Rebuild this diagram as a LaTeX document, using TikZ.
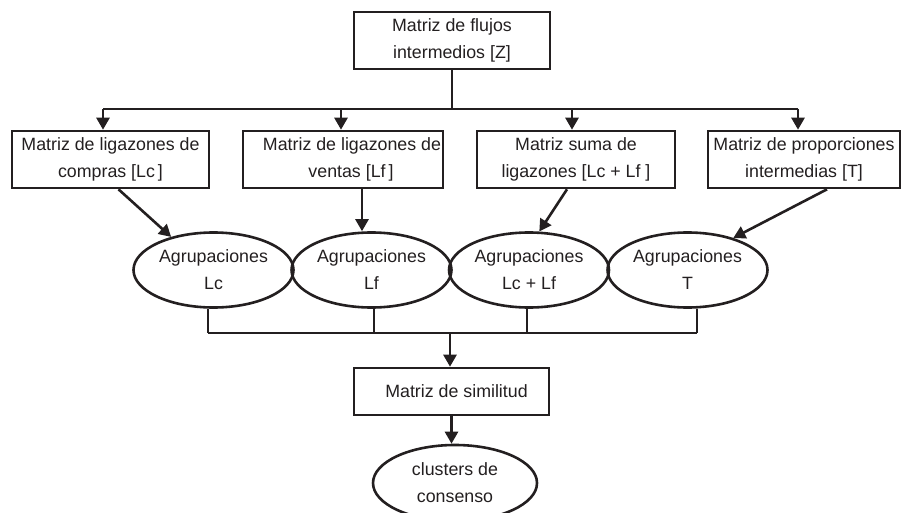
\documentclass[tikz,border=0pt]{standalone}
\usepackage{fontspec}
\setmainfont{Liberation Sans}
\usetikzlibrary{shapes.geometric,arrows.meta}
\definecolor{ink}{HTML}{231F20}
\begin{document}
\begin{tikzpicture}[x=1pt,y=-1pt,
  every node/.style={font=\fontsize{17.8}{27}\selectfont, text=ink, align=center, inner sep=0pt},
  rbox/.style={draw=ink, line width=2.6pt, rectangle},
  ell/.style={draw=ink, line width=2.6pt, ellipse, minimum width=160pt, minimum height=75pt},
  conn/.style={draw=ink, line width=2.6pt},
  arr/.style={draw=ink, fill=ink, line width=2.6pt, -{Triangle[length=12pt,width=13pt]}}]
\clip (0,0) rectangle (901,513);
\useasboundingbox (0,0) rectangle (901,513);
% top
\node[rbox, minimum width=196pt, minimum height=57pt] (z) at (452,40.5) {Matriz de flujos\\intermedios [Z]};
% second row
\node[rbox, minimum width=197pt, minimum height=57pt] (b1) at (110.5,159.5) {Matriz de ligazones de\\compras [Lc\,]};
\node[rbox, minimum width=200pt, minimum height=57pt] (b2) at (343,159.5) {\hspace*{18pt}Matriz de ligazones de\\\hspace*{16pt}ventas [Lf\,]};
\node[rbox, minimum width=198pt, minimum height=57pt] (b3) at (576,159.5) {Matriz suma de\\ligazones [Lc + Lf ]};
\node[rbox, minimum width=192pt, minimum height=57pt] (b4) at (804,159.5) {Matriz de proporciones\\intermedias [T]};
% ellipses
\node[ell] (e1) at (213.5,270) {Agrupaciones\\Lc};
\node[ell] (e2) at (371.5,270) {Agrupaciones\\Lf};
\node[ell] (e3) at (529,270) {Agrupaciones\\Lc + Lf};
\node[ell] (e4) at (687.5,270) {Agrupaciones\\T};
% bottom
\node[rbox, minimum width=195pt, minimum height=47pt] (sim) at (451.5,391.5) {\hspace*{10pt}Matriz de similitud};
\node[ell, minimum width=164pt, minimum height=76pt] (cl) at (455,483) {clusters de\\consenso};
% junctions
\coordinate (zj) at (452,109);
\coordinate (j1) at (103,109);
\coordinate (j2) at (341,109);
\coordinate (j3) at (572,109);
\coordinate (j4) at (798,109);
\coordinate (k1) at (208,333);
\coordinate (k2) at (374,333);
\coordinate (k3) at (527,333);
\coordinate (k4) at (697,333);
\coordinate (m) at (450,333);
% connectors top
\draw[conn] (z.south) -- (zj);
\draw[conn] (j1) -- (j4);
\draw[arr] (j1) -- (j1 |- b1.north);
\draw[arr] (j2) -- (j2 |- b2.north);
\draw[arr] (j3) -- (j3 |- b3.north);
\draw[arr] (j4) -- (j4 |- b4.north);
% boxes to ellipses
\draw[arr] ([xshift=8pt]b1.south) -- (e1.142);
\draw[arr] ([xshift=19pt]b2.south) -- ([xshift=19pt]b2.south |- e2.north);
\draw[arr] ([xshift=-9pt]b3.south) -- (e3.75);
\draw[arr] ([xshift=23pt]b4.south) -- (e4.35);
% ellipses to bar
\draw[conn] (k1 |- e1.south) -- (k1);
\draw[conn] (k2 |- e2.south) -- (k2);
\draw[conn] (k3 |- e3.south) -- (k3);
\draw[conn] (k4 |- e4.south) -- (k4);
\draw[conn] (k1) -- (k4);
\draw[arr] (m) -- (m |- sim.north);
\draw[arr] (sim.south) -- (sim.south |- cl.north);
\end{tikzpicture}
\end{document}
